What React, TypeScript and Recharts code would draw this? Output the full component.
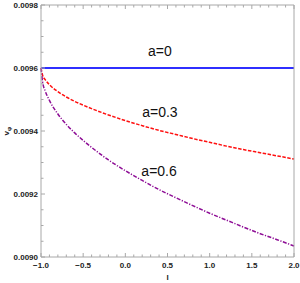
import React from 'react';
import { LineChart, Line, XAxis, YAxis, ReferenceDot } from 'recharts';

// l values where the curves were read
const lValues = [-1, -0.98, -0.95, -0.9, -0.8, -0.7, -0.6, -0.5, -0.4, -0.2, 0, 0.2, 0.4, 0.6, 0.8, 1.0, 1.2, 1.4, 1.6, 1.8, 2.0];
const vA0 = [0.0096, 0.0096, 0.0096, 0.0096, 0.0096, 0.0096, 0.0096, 0.0096, 0.0096, 0.0096, 0.0096, 0.0096, 0.0096, 0.0096, 0.0096, 0.0096, 0.0096, 0.0096, 0.0096, 0.0096, 0.0096];
const vA03 = [0.0096, 0.009576, 0.009563, 0.009547, 0.009525, 0.009508, 0.009494, 0.009482, 0.009471, 0.009451, 0.009433, 0.009417, 0.009402, 0.009389, 0.009376, 0.009364, 0.009352, 0.009341, 0.009331, 0.009321, 0.009311];
const vA06 = [0.0096, 0.009554, 0.009527, 0.009497, 0.009454, 0.009421, 0.009394, 0.00937, 0.009348, 0.009308, 0.009274, 0.009243, 0.009214, 0.009188, 0.009163, 0.009139, 0.009117, 0.009095, 0.009074, 0.009055, 0.009035];

const xMajor = [-1, -0.5, 0, 0.5, 1, 1.5, 2];
const yMajor = [0.009, 0.0092, 0.0094, 0.0096, 0.0098];

// curve labels: [text, l, v]
const curveLabels: [string, number, number][] = [
  ['a=0', 0.41, 0.009654],
  ['a=0.3', 0.41, 0.00946],
  ['a=0.6', 0.4, 0.009273],
];

const data = lValues.map((l, i) => ({ l, a0: vA0[i], a03: vA03[i], a06: vA06[i] }));

const round = (v: number, d: number) => Math.round(v * 10 ** d) / 10 ** d;
const xTicks: number[] = [];
for (let i = 0; i <= 30; i++) xTicks.push(round(-1 + i * 0.1, 2));
const yTicks: number[] = [];
for (let i = 0; i <= 16; i++) yTicks.push(round(0.009 + i * 0.00005, 6));

const isMajor = (v: number, majors: number[]) => majors.some((m) => Math.abs(m - v) < 1e-9);

const frame = '#a8a8a8';
const tickFont = { fontFamily: 'Liberation Sans, Arial, sans-serif', fontSize: 8, fontWeight: 700, fill: '#222' };

const XTick = ({ x, y, payload, side, showLabel }: any) => {
  const major = isMajor(payload.value, xMajor);
  const len = major ? 4 : 2.5;
  const dir = side === 'bottom' ? -1 : 1;
  return (
    <g>
      <line x1={x} x2={x} y1={y} y2={y + dir * len} stroke={frame} strokeWidth={1} />
      {showLabel && major && (
        <text x={x} y={y + 11} textAnchor="middle" {...tickFont}>
          {payload.value.toFixed(1).replace('-', '\u2212')}
        </text>
      )}
    </g>
  );
};

const YTick = ({ x, y, payload, side, showLabel }: any) => {
  const major = isMajor(payload.value, yMajor);
  const len = major ? 4 : 2.5;
  const dir = side === 'left' ? 1 : -1;
  return (
    <g>
      <line x1={x} x2={x + dir * len} y1={y} y2={y} stroke={frame} strokeWidth={1} />
      {showLabel && major && (
        <text x={x - 3} y={y + 3} textAnchor="end" {...tickFont}>
          {payload.value.toFixed(4)}
        </text>
      )}
    </g>
  );
};

const App = () => {
  return (
    <div style={{ position: 'absolute', left: 0, top: 0, background: '#fff' }}>
      <LineChart width={300} height={283} data={data} margin={{ top: 0, right: 0, bottom: 0, left: 0 }}>
        <XAxis
          xAxisId="bottom"
          dataKey="l"
          type="number"
          domain={[-1, 2]}
          ticks={xTicks}
          interval={0}
          height={26}
          orientation="bottom"
          stroke={frame}
          tickLine={false}
          tickSize={0}
          tickMargin={0}
          tick={<XTick side="bottom" showLabel />}
          label={{
            content: ({ viewBox }: any) => (
              <text x={viewBox.x + viewBox.width / 2} y={viewBox.y + 23} textAnchor="middle" {...tickFont}>
                l
              </text>
            ),
          }}
        />
        <XAxis
          xAxisId="top"
          dataKey="l"
          type="number"
          domain={[-1, 2]}
          ticks={xTicks}
          interval={0}
          height={5}
          orientation="top"
          stroke={frame}
          tickLine={false}
          tickSize={0}
          tickMargin={0}
          tick={<XTick side="top" />}
        />
        <YAxis
          yAxisId="left"
          type="number"
          domain={[0.009, 0.0098]}
          ticks={yTicks}
          interval={0}
          width={41}
          orientation="left"
          stroke={frame}
          tickLine={false}
          tickSize={0}
          tickMargin={0}
          tick={<YTick side="left" showLabel />}
          label={{
            content: ({ viewBox }: any) => (
              <text
                x={viewBox.x + 9}
                y={viewBox.y + 126}
                textAnchor="middle"
                transform={`rotate(-90, ${viewBox.x + 9}, ${viewBox.y + 126})`}
                {...tickFont}
              >
                v
                <tspan fontSize={6} dy={2}>φ</tspan>
              </text>
            ),
          }}
        />
        <YAxis
          yAxisId="right"
          type="number"
          domain={[0.009, 0.0098]}
          ticks={yTicks}
          interval={0}
          width={6}
          orientation="right"
          stroke={frame}
          tickLine={false}
          tickSize={0}
          tickMargin={0}
          tick={<YTick side="right" />}
        />
        <Line
          xAxisId="bottom"
          yAxisId="left"
          type="monotone"
          dataKey="a0"
          stroke="#2f2fff"
          strokeWidth={2}
          dot={false}
          isAnimationActive={false}
        />
        <Line
          xAxisId="bottom"
          yAxisId="left"
          type="monotone"
          dataKey="a03"
          stroke="#ff1010"
          strokeWidth={1.5}
          strokeDasharray="3.5 1.5"
          dot={false}
          isAnimationActive={false}
        />
        <Line
          xAxisId="bottom"
          yAxisId="left"
          type="monotone"
          dataKey="a06"
          stroke="#8e0e96"
          strokeWidth={1.5}
          strokeDasharray="4 1.5 1.2 1.5"
          dot={false}
          isAnimationActive={false}
        />
        {curveLabels.map(([text, l, v]) => (
          <ReferenceDot
            key={text}
            xAxisId="bottom"
            yAxisId="left"
            x={l}
            y={v}
            r={0}
            fill="none"
            stroke="none"
            label={{ value: text, position: 'center', fontSize: 14, fill: '#111', fontFamily: 'Liberation Sans, Arial, sans-serif' }}
          />
        ))}
      </LineChart>
    </div>
  );
};

export default App;
